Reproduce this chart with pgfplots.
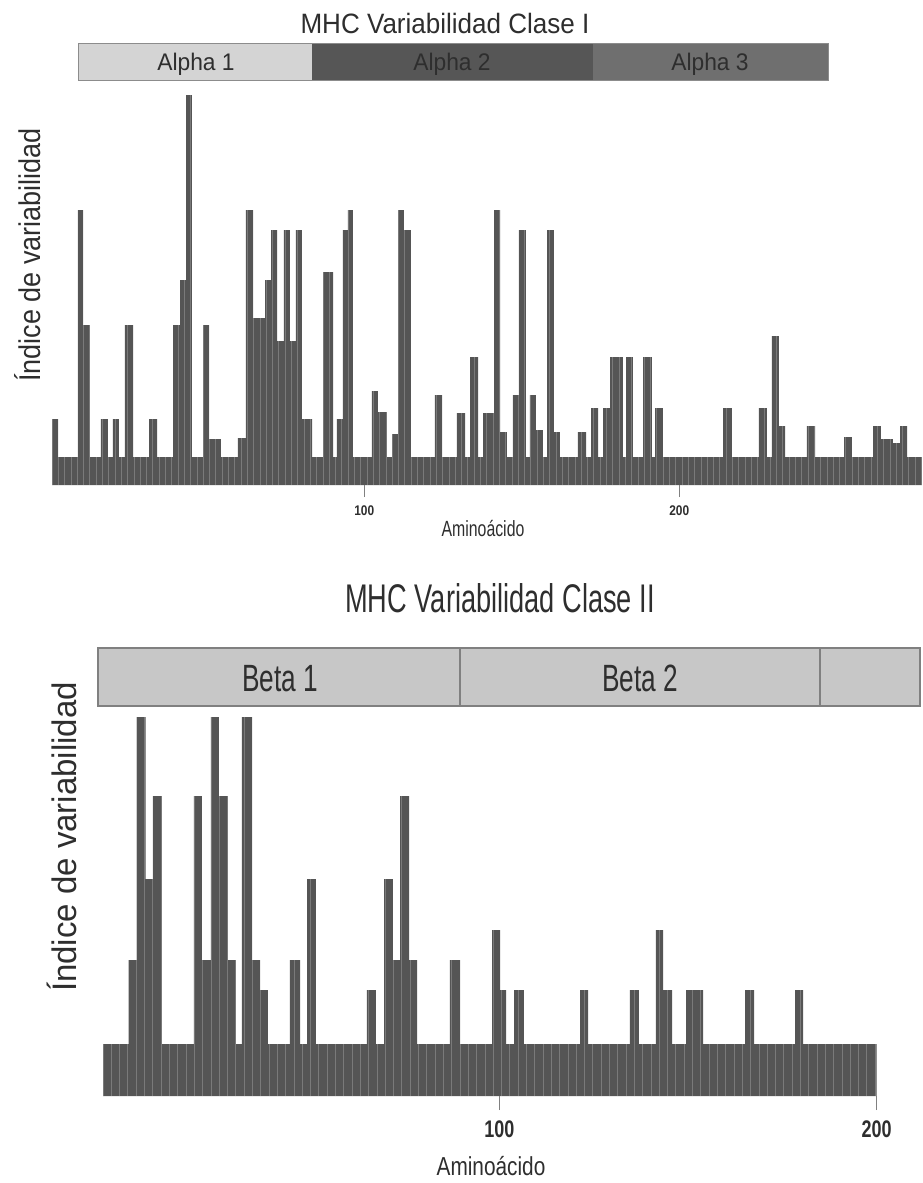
\documentclass[border=0pt]{standalone}
\usepackage{pgfplots}
\pgfplotsset{compat=1.18}
\usepackage{fontspec}
\setmainfont{Liberation Sans}
\usepackage{graphicx}

\definecolor{barc}{HTML}{555555}
\definecolor{txt}{HTML}{2E2E2E}
\definecolor{dom1}{HTML}{D4D4D4}
\definecolor{dom2}{HTML}{565656}
\definecolor{dom3}{HTML}{6F6F6F}
\definecolor{domb}{HTML}{C7C7C7}

% Clase I: start of each run of bars (aminoacid) and its height; last point closes the interval
\pgfplotstableread{
x h
0.9 66
2.8 28
9.1 275
10.7 160
12.9 28
16.4 66
18.6 28
20.2 66
22.1 28
24.0 160
26.6 28
31.7 66
34.2 28
39.3 160
41.5 205
43.4 390
45.3 28
48.8 160
50.7 46
54.5 28
59.9 47
62.4 275
64.7 167
68.5 205
70.4 255
72.3 144
74.5 255
76.4 144
78.3 255
80.2 66
83.4 28
86.9 213
90.1 28
91.3 66
93.2 255
94.8 275
96.4 28
102.4 94
104.3 73
107.2 28
108.8 51
110.7 275
112.6 255
114.8 28
122.4 90
124.7 28
129.4 72
132.0 28
133.6 128
136.1 28
137.7 72
141.2 275
143.1 53
145.3 28
147.2 90
149.1 255
151.3 28
152.6 90
154.5 55
156.7 28
158.0 255
160.2 53
162.1 28
167.8 53
170.4 28
172.0 77
174.2 28
175.8 77
178.0 128
182.1 28
183.1 128
185.3 28
188.5 128
191.3 28
192.3 77
194.8 28
213.9 77
216.7 28
225.3 77
227.8 28
229.4 149
231.6 59
233.6 28
240.5 59
243.1 28
252.3 48
254.8 28
261.5 59
264.0 46
267.8 42
270.1 59
272.3 28
277.0 28
}\claseI

% Clase II
\pgfplotstableread{
x h
-5.0 52
1.8 136
3.9 379
6.3 217
8.2 300
10.6 52
19.1 300
21.2 136
23.6 379
25.7 300
28.1 136
30.2 52
31.8 379
34.5 136
36.6 106
38.7 52
44.5 136
47.2 52
49.1 217
51.4 52
64.9 106
67.3 52
69.5 217
71.8 136
73.7 300
76.1 136
78.2 52
86.9 136
89.6 52
98.1 166
100.2 106
101.8 52
103.9 106
106.5 52
121.4 106
123.5 52
134.6 106
137.0 52
141.5 166
143.4 106
145.8 52
149.5 106
154.0 52
165.1 106
167.5 52
178.4 106
180.5 52
200.0 52
}\claseII

\pgfplotsset{
  varbars/.style={
    scale only axis, hide y axis,
    axis x line*=bottom, x axis line style={draw=none},
    tick align=outside, xtick style={black!50, line width=0.6pt},
    minor tick length=0pt, xminorgrids,
    minor grid style={white, opacity=0.22, line width=0.45pt},
    axis on top, ymin=0, clip=false,
    /pgf/number format/assume math mode=true,
  },
}

\begin{document}
\begin{tikzpicture}
\path[use as bounding box] (0,0) rectangle (461pt,-591.5pt);

% ---------- Clase I ----------
\begin{axis}[varbars,
  at={(24.65pt,-242.5pt)}, anchor=south west,
  width=436.35pt, height=197.5pt,
  xmin=0, xmax=277.05, ymax=395,
  xtick={100,200}, major tick length=6pt,
  minor xtick={0.9,2.9,...,277},
  x tick label style={font=\bfseries\fontsize{7}{7}\selectfont, text=txt, xscale=0.85, yshift=-1pt},
]
\addplot[ybar interval, fill=barc, draw=none] table[x=x, y=h] {\claseI};
\end{axis}

% ---------- Clase II ----------
\begin{axis}[varbars,
  at={(49pt,-548pt)}, anchor=south west,
  width=412pt, height=193pt,
  xmin=-6.333, xmax=212.0, ymax=386,
  xtick={100,200}, major tick length=7pt,
  minor xtick={-5.0,-2.8,...,200},
  x tick label style={font=\bfseries\fontsize{12}{12}\selectfont, text=txt, xscale=0.75, yshift=-2pt},
]
\addplot[ybar interval, fill=barc, draw=none] table[x=x, y=h] {\claseII};
\end{axis}

\begin{scope}[x=0.5pt, y=-0.5pt]
  % titles
  \node[text=txt, anchor=base] at (445,33) {\fontsize{14}{14}\selectfont\scalebox{0.93}[1]{MHC Variabilidad Clase I}};
  \node[text=txt, anchor=base] at (500,612) {\fontsize{20}{20}\selectfont\scalebox{0.68}[1]{MHC Variabilidad Clase II}};
  % domain bars, Clase I
  \fill[dom1] (78,43) rectangle (312,80);
  \fill[dom2] (312,43) rectangle (593,80);
  \fill[dom3] (593,43) rectangle (828,80);
  \draw[black!45, line width=0.5pt] (78,43) rectangle (828,80);
  \node[text=txt, anchor=base] at (196,70) {\fontsize{12}{12}\selectfont\scalebox{0.95}[1]{Alpha 1}};
  \node[text=txt, anchor=base] at (452,70) {\fontsize{12}{12}\selectfont\scalebox{0.95}[1]{Alpha 2}};
  \node[text=txt, anchor=base] at (710,70) {\fontsize{12}{12}\selectfont\scalebox{0.95}[1]{Alpha 3}};
  % domain bars, Clase II
  \fill[domb] (98,648) rectangle (920,706);
  \draw[black!50, line width=0.7pt] (98,648) rectangle (920,706);
  \draw[black!50, line width=0.7pt] (460,648) -- (460,706) (820,648) -- (820,706);
  \node[text=txt, anchor=base] at (280,691) {\fontsize{19}{19}\selectfont\scalebox{0.69}[1]{Beta 1}};
  \node[text=txt, anchor=base] at (640,691) {\fontsize{19}{19}\selectfont\scalebox{0.69}[1]{Beta 2}};
  % y labels
  \node[text=txt, rotate=90] at (28,255) {\fontsize{15}{15}\selectfont\scalebox{0.9}[1]{Índice de variabilidad}};
  \node[text=txt, rotate=90] at (62,837) {\fontsize{17}{17}\selectfont\scalebox{0.97}[1]{Índice de variabilidad}};
  % x labels
  \node[text=txt] at (483,529) {\fontsize{11}{11}\selectfont\scalebox{0.72}[1]{Aminoácido}};
  \node[text=txt] at (491,1166) {\fontsize{13}{13}\selectfont\scalebox{0.8}[1]{Aminoácido}};
\end{scope}
\end{tikzpicture}
\end{document}
